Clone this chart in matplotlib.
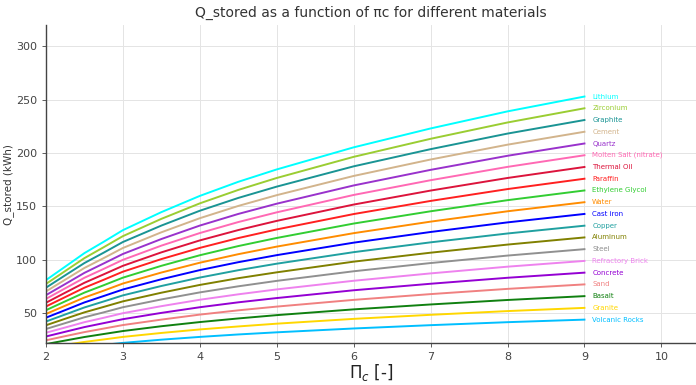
import matplotlib
matplotlib.use("Agg")
import matplotlib.pyplot as plt

pi_c = [2, 2.25, 2.5, 2.75, 3, 3.5, 4, 4.5, 5, 6, 7, 8, 9]

materials = ["Lithium", "Zirconium", "Graphite", "Cement", "Quartz",
             "Molten Salt (nitrate)", "Thermal Oil", "Paraffin", "Ethylene Glycol",
             "Water", "Cast iron", "Copper", "Aluminum", "Steel",
             "Refractory Brick", "Concrete", "Sand", "Basalt", "Granite",
             "Volcanic Rocks"]

lithium = [81.0, 93.6, 106.3, 116.9, 127.8, 144.7, 159.9, 173.1, 184.7, 205.4, 223.1, 239.1, 253.0]
zirconium = [77.4, 89.5, 101.6, 111.8, 122.2, 138.4, 152.9, 165.5, 176.7, 196.5, 213.4, 228.7, 242.0]
graphite = [73.9, 85.5, 97.0, 106.7, 116.7, 132.1, 146.0, 158.0, 168.6, 187.6, 203.7, 218.3, 231.0]
cement = [70.4, 81.4, 92.4, 101.6, 111.1, 125.8, 139.0, 150.5, 160.6, 178.6, 194.0, 207.9, 220.0]
quartz = [66.9, 77.3, 87.8, 96.6, 105.5, 119.5, 132.1, 143.0, 152.6, 169.7, 184.3, 197.5, 209.0]
molten_salt = [63.4, 73.3, 83.2, 91.5, 100.0, 113.3, 125.1, 135.4, 144.5, 160.8, 174.6, 187.1, 198.0]
thermal_oil = [59.8, 69.2, 78.5, 86.4, 94.4, 107.0, 118.2, 127.9, 136.5, 151.8, 164.9, 176.7, 187.0]
paraffin = [56.3, 65.1, 73.9, 81.3, 88.9, 100.7, 111.2, 120.4, 128.5, 142.9, 155.2, 166.3, 176.0]
ethylene_glycol = [52.8, 61.1, 69.3, 76.2, 83.3, 94.4, 104.3, 112.9, 120.5, 134.0, 145.5, 155.9, 165.0]
water = [49.3, 57.0, 64.7, 71.1, 77.8, 88.1, 97.3, 105.3, 112.4, 125.0, 135.8, 145.5, 154.0]
cast_iron = [45.8, 52.9, 60.1, 66.1, 72.2, 81.8, 90.4, 97.8, 104.4, 116.1, 126.1, 135.1, 143.0]
copper = [42.2, 48.8, 55.4, 61.0, 66.7, 75.5, 83.4, 90.3, 96.4, 107.2, 116.4, 124.7, 132.0]
aluminum = [38.7, 44.8, 50.8, 55.9, 61.1, 69.2, 76.5, 82.8, 88.3, 98.3, 106.7, 114.3, 121.0]
steel = [35.2, 40.7, 46.2, 50.8, 55.6, 62.9, 69.5, 75.2, 80.3, 89.3, 97.0, 104.0, 110.0]
refractory_brick = [31.7, 36.6, 41.6, 45.7, 50.0, 56.6, 62.6, 67.7, 72.3, 80.4, 87.3, 93.6, 99.0]
concrete = [28.2, 32.6, 37.0, 40.7, 44.4, 50.3, 55.6, 60.2, 64.2, 71.5, 77.6, 83.2, 88.0]
sand = [24.6, 28.5, 32.3, 35.6, 38.9, 44.0, 48.7, 52.7, 56.2, 62.5, 67.9, 72.8, 77.0]
basalt = [21.1, 24.4, 27.7, 30.5, 33.3, 37.8, 41.7, 45.1, 48.2, 53.6, 58.2, 62.4, 66.0]
granite = [17.6, 20.4, 23.1, 25.4, 27.8, 31.5, 34.8, 37.6, 40.2, 44.7, 48.5, 52.0, 55.0]
volcanic_rocks = [14.1, 16.3, 18.5, 20.3, 22.2, 25.2, 27.8, 30.1, 32.1, 35.7, 38.8, 41.6, 44.0]

series = [lithium, zirconium, graphite, cement, quartz, molten_salt, thermal_oil,
          paraffin, ethylene_glycol, water, cast_iron, copper, aluminum, steel,
          refractory_brick, concrete, sand, basalt, granite, volcanic_rocks]

colors = ["#00FFFF", "#9ACD32", "#1A9494", "#D2B48C", "#9932CC", "#FF69B4",
          "#DC143C", "#FF2020", "#32CD32", "#FF8C00", "#0000FF", "#20A0A0",
          "#808000", "#909090", "#EE82EE", "#9400D3", "#F08080", "#108010",
          "#FFD700", "#00BFFF"]

fig = plt.figure(figsize=(6.96, 3.85), dpi=100)
ax = fig.add_axes([0.066, 0.108, 0.934, 0.827])

for name, vals, c in zip(materials, series, colors):
    ax.plot(pi_c, vals, color=c, lw=1.4)
    ax.text(9.1, vals[-1], name, color=c, fontsize=5, va="center", ha="left")

ax.set_xlim(2, 10.45)
ax.set_ylim(21.7, 320)
ax.set_xticks([2, 3, 4, 5, 6, 7, 8, 9, 10])
ax.set_yticks([50, 100, 150, 200, 250, 300])
ax.grid(True, color="#e4e4e4", lw=0.7)
ax.set_axisbelow(True)
for s in ["top", "right"]:
    ax.spines[s].set_visible(False)
for s in ["left", "bottom"]:
    ax.spines[s].set_color("#444444")
    ax.spines[s].set_linewidth(1.0)
ax.tick_params(labelsize=8, colors="#444444", length=3, width=0.6)
ax.set_title("Q_stored as a function of πc for different materials",
             fontsize=10, color="#333333", pad=6)
ax.set_ylabel("Q_stored (kWh)", fontsize=7.5, color="#333333", labelpad=1)
ax.set_xlabel(r"$\Pi_c$ [-]", fontsize=12, color="#222222", labelpad=0)

fig.savefig("out.png", dpi=100)
